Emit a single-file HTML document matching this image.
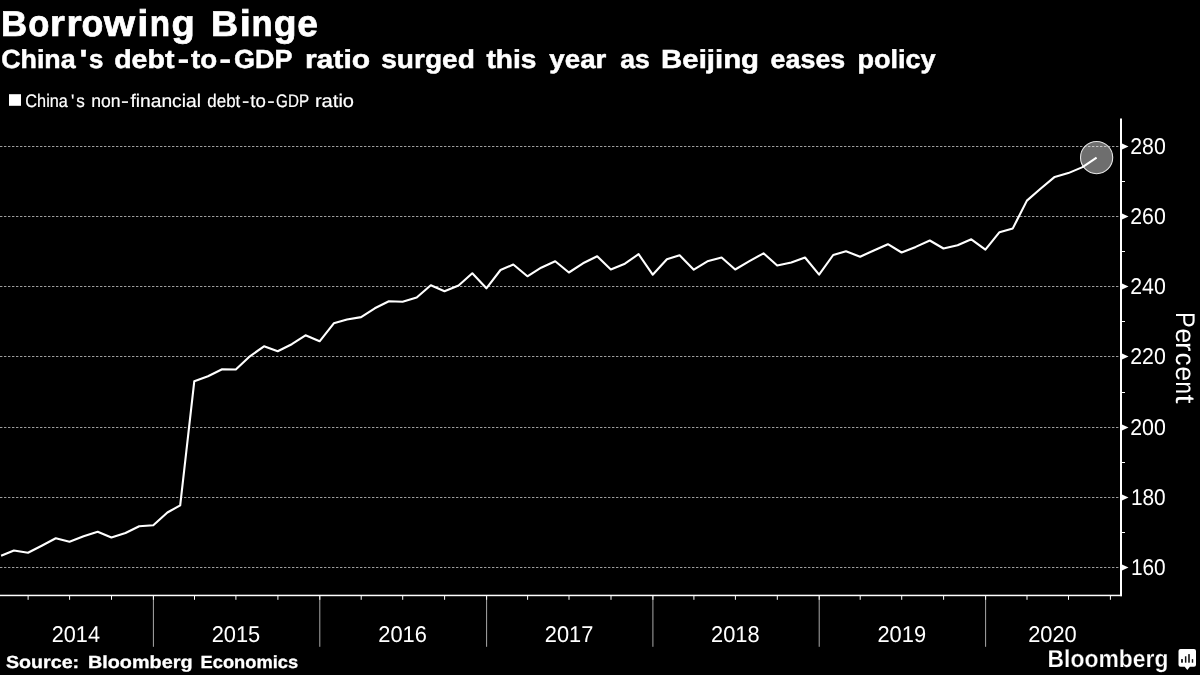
<!DOCTYPE html>
<html><head><meta charset="utf-8"><title>Borrowing Binge</title>
<style>
html,body{margin:0;padding:0;background:#000;width:1200px;height:675px;overflow:hidden}
svg text{font-family:"Liberation Sans",sans-serif;text-rendering:geometricPrecision;}
</style></head><body>
<svg width="1200" height="675" viewBox="0 0 1200 675" style="position:absolute;left:0;top:0;will-change:transform">
<rect width="1200" height="675" fill="#000"/>
<line x1="0" y1="146.5" x2="1120" y2="146.5" stroke="#9c9c9c" stroke-width="1" stroke-dasharray="2.4 1.6"/>
<line x1="0" y1="216.5" x2="1120" y2="216.5" stroke="#9c9c9c" stroke-width="1" stroke-dasharray="2.4 1.6"/>
<line x1="0" y1="286.5" x2="1120" y2="286.5" stroke="#9c9c9c" stroke-width="1" stroke-dasharray="2.4 1.6"/>
<line x1="0" y1="356.5" x2="1120" y2="356.5" stroke="#9c9c9c" stroke-width="1" stroke-dasharray="2.4 1.6"/>
<line x1="0" y1="427.5" x2="1120" y2="427.5" stroke="#9c9c9c" stroke-width="1" stroke-dasharray="2.4 1.6"/>
<line x1="0" y1="497.5" x2="1120" y2="497.5" stroke="#9c9c9c" stroke-width="1" stroke-dasharray="2.4 1.6"/>
<line x1="0" y1="567.5" x2="1120" y2="567.5" stroke="#9c9c9c" stroke-width="1" stroke-dasharray="2.4 1.6"/>
<circle cx="1096.6" cy="157.6" r="16.1" fill="#fff" fill-opacity="0.43" stroke="#e4e4e4" stroke-width="1.1"/>
<polyline points="1.1,555.8 13.9,550.5 28.0,552.8 41.7,545.8 55.8,538.3 69.5,541.7 83.6,536.3 97.7,531.7 111.4,537.5 125.5,533.0 139.2,526.3 153.3,525.3 167.4,512.5 180.2,505.3 194.3,381.2 208.0,376.3 222.1,369.2 235.8,369.5 249.9,356.3 264.0,346.3 277.7,351.3 291.8,344.2 305.5,335.3 319.6,341.3 333.8,323.3 347.0,319.5 361.1,317.1 374.8,308.3 388.9,301.3 402.6,301.7 416.7,297.5 430.8,285.3 444.5,291.3 458.6,285.5 472.3,273.3 486.4,288.3 500.5,270.0 513.3,264.5 527.4,276.3 541.1,267.7 555.2,261.3 568.9,272.5 583.0,263.3 597.2,256.3 610.8,269.5 624.9,263.7 638.6,254.2 652.7,274.7 666.9,259.2 679.6,255.3 693.8,269.7 707.4,261.3 721.6,257.5 735.2,269.5 749.4,261.2 763.5,253.3 777.2,265.5 791.3,262.5 805.0,257.5 819.1,274.7 833.2,255.0 846.0,251.3 860.1,256.7 873.8,250.5 887.9,244.2 901.6,252.5 915.7,246.9 929.8,240.5 943.5,248.5 957.6,245.2 971.3,239.3 985.4,249.7 999.5,232.2 1012.8,228.4 1026.9,200.6 1040.5,188.8 1054.7,176.9 1068.3,173.1 1082.5,167.1 1096.6,157.6" fill="none" stroke="#fff" stroke-width="2.1" stroke-linejoin="round" stroke-linecap="butt"/>
<rect x="1120" y="118.5" width="2" height="477.7" fill="#fff"/>
<rect x="0" y="594.7" width="1122" height="1.5" fill="#fff"/>
<path d="M1122 143.5 L1128.5 146.5 L1122 149.5 Z" fill="#fff"/>
<path d="M1122 213.5 L1128.5 216.5 L1122 219.5 Z" fill="#fff"/>
<path d="M1122 283.5 L1128.5 286.5 L1122 289.5 Z" fill="#fff"/>
<path d="M1122 353.5 L1128.5 356.5 L1122 359.5 Z" fill="#fff"/>
<path d="M1122 424.5 L1128.5 427.5 L1122 430.5 Z" fill="#fff"/>
<path d="M1122 494.5 L1128.5 497.5 L1122 500.5 Z" fill="#fff"/>
<path d="M1122 564.5 L1128.5 567.5 L1122 570.5 Z" fill="#fff"/>
<rect x="1122" y="181" width="3" height="1" fill="#fff"/>
<rect x="1122" y="251" width="3" height="1" fill="#fff"/>
<rect x="1122" y="321" width="3" height="1" fill="#fff"/>
<rect x="1122" y="392" width="3" height="1" fill="#fff"/>
<rect x="1122" y="462" width="3" height="1" fill="#fff"/>
<rect x="1122" y="532" width="3" height="1" fill="#fff"/>
<rect x="152.9" y="596" width="1" height="50.8" fill="#a8a8a8"/>
<rect x="152.9" y="596" width="1" height="3.8" fill="#fff"/>
<rect x="319.3" y="596" width="1" height="50.8" fill="#a8a8a8"/>
<rect x="319.3" y="596" width="1" height="3.8" fill="#fff"/>
<rect x="486.1" y="596" width="1" height="50.8" fill="#a8a8a8"/>
<rect x="486.1" y="596" width="1" height="3.8" fill="#fff"/>
<rect x="652.4" y="596" width="1" height="50.8" fill="#a8a8a8"/>
<rect x="652.4" y="596" width="1" height="3.8" fill="#fff"/>
<rect x="818.7" y="596" width="1" height="50.8" fill="#a8a8a8"/>
<rect x="818.7" y="596" width="1" height="3.8" fill="#fff"/>
<rect x="985.1" y="596" width="1" height="50.8" fill="#a8a8a8"/>
<rect x="985.1" y="596" width="1" height="3.8" fill="#fff"/>
<rect x="27.6" y="596" width="1" height="3.8" fill="#fff"/>
<rect x="69.1" y="596" width="1" height="3.8" fill="#fff"/>
<rect x="111.0" y="596" width="1" height="3.8" fill="#fff"/>
<rect x="194.0" y="596" width="1" height="3.8" fill="#fff"/>
<rect x="235.4" y="596" width="1" height="3.8" fill="#fff"/>
<rect x="277.4" y="596" width="1" height="3.8" fill="#fff"/>
<rect x="360.7" y="596" width="1" height="3.8" fill="#fff"/>
<rect x="402.2" y="596" width="1" height="3.8" fill="#fff"/>
<rect x="444.1" y="596" width="1" height="3.8" fill="#fff"/>
<rect x="527.1" y="596" width="1" height="3.8" fill="#fff"/>
<rect x="568.5" y="596" width="1" height="3.8" fill="#fff"/>
<rect x="610.5" y="596" width="1" height="3.8" fill="#fff"/>
<rect x="693.4" y="596" width="1" height="3.8" fill="#fff"/>
<rect x="734.9" y="596" width="1" height="3.8" fill="#fff"/>
<rect x="776.8" y="596" width="1" height="3.8" fill="#fff"/>
<rect x="859.7" y="596" width="1" height="3.8" fill="#fff"/>
<rect x="901.2" y="596" width="1" height="3.8" fill="#fff"/>
<rect x="943.1" y="596" width="1" height="3.8" fill="#fff"/>
<rect x="1026.5" y="596" width="1" height="3.8" fill="#fff"/>
<rect x="1068.0" y="596" width="1" height="3.8" fill="#fff"/>
<rect x="1109.9" y="596" width="1" height="3.8" fill="#fff"/>
<rect x="9" y="94.2" width="12" height="11.6" fill="#fff"/>
<path d="M1180.5 649.1 H1194 Q1196 649.1 1196 651.1 V664.7 Q1196 666.7 1194 666.7 H1189.9 L1187.3 670 L1184.7 666.7 H1180.5 Q1178.5 666.7 1178.5 664.7 V651.1 Q1178.5 649.1 1180.5 649.1 Z" fill="#fff"/>
<rect x="1181.1" y="659.1" width="1.8" height="3.6" fill="#111"/>
<rect x="1184.9" y="656.3" width="1.5" height="6.4" fill="#111"/>
<rect x="1188.2" y="654.1" width="1.6" height="8.6" fill="#111"/>
<rect x="1191.8" y="659.1" width="1.4" height="3.6" fill="#111"/>
<text font-weight="bold" fill="#fff" xml:space="default"><tspan x="1.12" y="36.3" font-size="35.7" textLength="26.18" lengthAdjust="spacingAndGlyphs" stroke="#fff" stroke-width="0.7">B</tspan><tspan x="28.28" y="36.3" font-size="37.0" textLength="21.14" lengthAdjust="spacingAndGlyphs" stroke="#fff" stroke-width="0.7">o</tspan><tspan x="50.01" y="36.3" font-size="37.0" textLength="14.86" lengthAdjust="spacingAndGlyphs" stroke="#fff" stroke-width="0.7">r</tspan><tspan x="66.53" y="36.3" font-size="37.0" textLength="15.17" lengthAdjust="spacingAndGlyphs" stroke="#fff" stroke-width="0.7">r</tspan><tspan x="81.55" y="36.3" font-size="37.0" textLength="21.84" lengthAdjust="spacingAndGlyphs" stroke="#fff" stroke-width="0.7">o</tspan><tspan x="103.68" y="36.3" font-size="37.0" textLength="31.35" lengthAdjust="spacingAndGlyphs" stroke="#fff" stroke-width="0.7">w</tspan><tspan x="137.24" y="36.3" font-size="37.0" textLength="11.17" lengthAdjust="spacingAndGlyphs" stroke="#fff" stroke-width="0.7">i</tspan><tspan x="149.69" y="36.3" font-size="37.0" textLength="20.34" lengthAdjust="spacingAndGlyphs" stroke="#fff" stroke-width="0.7">n</tspan><tspan x="171.54" y="36.3" font-size="37.0" textLength="23.27" lengthAdjust="spacingAndGlyphs" stroke="#fff" stroke-width="0.7">g</tspan> <tspan x="211.12" y="36.3" font-size="35.7" textLength="27.17" lengthAdjust="spacingAndGlyphs" stroke="#fff" stroke-width="0.7">B</tspan><tspan x="239.79" y="36.3" font-size="37.0" textLength="11.17" lengthAdjust="spacingAndGlyphs" stroke="#fff" stroke-width="0.7">i</tspan><tspan x="251.58" y="36.3" font-size="37.0" textLength="21.16" lengthAdjust="spacingAndGlyphs" stroke="#fff" stroke-width="0.7">n</tspan><tspan x="273.73" y="36.3" font-size="37.0" textLength="22.76" lengthAdjust="spacingAndGlyphs" stroke="#fff" stroke-width="0.7">g</tspan><tspan x="297.18" y="36.3" font-size="37.0" textLength="20.62" lengthAdjust="spacingAndGlyphs" stroke="#fff" stroke-width="0.7">e</tspan></text>
<text font-weight="bold" fill="#fff" xml:space="default"><tspan x="1.16" y="68.3" font-size="26.0" textLength="74.46" lengthAdjust="spacingAndGlyphs" stroke="#fff" stroke-width="0.5">China</tspan><tspan x="79.56" y="68.3" font-size="26.0" textLength="7.96" lengthAdjust="spacingAndGlyphs" stroke="#fff" stroke-width="0.5">&#39;</tspan><tspan x="89.03" y="68.3" font-size="26.0" textLength="14.40" lengthAdjust="spacingAndGlyphs" stroke="#fff" stroke-width="0.5">s</tspan> <tspan x="114.16" y="68.3" font-size="26.0" textLength="60.28" lengthAdjust="spacingAndGlyphs" stroke="#fff" stroke-width="0.5">debt</tspan><tspan x="177.70" y="68.3" font-size="26.0" textLength="11.29" lengthAdjust="spacingAndGlyphs" stroke="#fff" stroke-width="0.5">-</tspan><tspan x="191.09" y="68.3" font-size="26.0" textLength="26.18" lengthAdjust="spacingAndGlyphs" stroke="#fff" stroke-width="0.5">to</tspan><tspan x="219.47" y="68.3" font-size="26.0" textLength="11.44" lengthAdjust="spacingAndGlyphs" stroke="#fff" stroke-width="0.5">-</tspan><tspan x="234.11" y="68.3" font-size="26.0" textLength="58.37" lengthAdjust="spacingAndGlyphs" stroke="#fff" stroke-width="0.5">GDP</tspan> <tspan x="304.92" y="68.3" font-size="26.0" textLength="65.24" lengthAdjust="spacingAndGlyphs" stroke="#fff" stroke-width="0.5">ratio</tspan> <tspan x="381.22" y="68.3" font-size="26.0" textLength="93.61" lengthAdjust="spacingAndGlyphs" stroke="#fff" stroke-width="0.5">surged</tspan> <tspan x="486.51" y="68.3" font-size="26.0" textLength="49.98" lengthAdjust="spacingAndGlyphs" stroke="#fff" stroke-width="0.5">this</tspan> <tspan x="549.38" y="68.3" font-size="26.0" textLength="57.00" lengthAdjust="spacingAndGlyphs" stroke="#fff" stroke-width="0.5">year</tspan> <tspan x="620.36" y="68.3" font-size="26.0" textLength="29.52" lengthAdjust="spacingAndGlyphs" stroke="#fff" stroke-width="0.5">as</tspan> <tspan x="661.08" y="68.3" font-size="26.0" textLength="97.98" lengthAdjust="spacingAndGlyphs" stroke="#fff" stroke-width="0.5">Beijing</tspan> <tspan x="770.63" y="68.3" font-size="26.0" textLength="74.60" lengthAdjust="spacingAndGlyphs" stroke="#fff" stroke-width="0.5">eases</tspan> <tspan x="857.40" y="68.3" font-size="26.0" textLength="78.29" lengthAdjust="spacingAndGlyphs" stroke="#fff" stroke-width="0.5">policy</tspan></text>
<text font-weight="normal" fill="#fff" xml:space="default"><tspan x="25.37" y="106.7" font-size="18.2" textLength="42.52" lengthAdjust="spacingAndGlyphs" stroke="#fff" stroke-width="0.2">China</tspan><tspan x="71.04" y="106.7" font-size="18.2" textLength="3.35" lengthAdjust="spacingAndGlyphs" stroke="#fff" stroke-width="0.2">&#39;</tspan><tspan x="76.28" y="106.7" font-size="18.2" textLength="8.55" lengthAdjust="spacingAndGlyphs" stroke="#fff" stroke-width="0.2">s</tspan> <tspan x="91.29" y="106.7" font-size="18.2" textLength="29.38" lengthAdjust="spacingAndGlyphs" stroke="#fff" stroke-width="0.2">non</tspan><tspan x="121.11" y="106.7" font-size="18.2" textLength="7.89" lengthAdjust="spacingAndGlyphs" stroke="#fff" stroke-width="0.2">-</tspan><tspan x="130.40" y="106.7" font-size="18.2" textLength="70.56" lengthAdjust="spacingAndGlyphs" stroke="#fff" stroke-width="0.2">financial</tspan> <tspan x="207.34" y="106.7" font-size="18.2" textLength="32.94" lengthAdjust="spacingAndGlyphs" stroke="#fff" stroke-width="0.2">debt</tspan><tspan x="242.04" y="106.7" font-size="18.2" textLength="7.26" lengthAdjust="spacingAndGlyphs" stroke="#fff" stroke-width="0.2">-</tspan><tspan x="250.38" y="106.7" font-size="18.2" textLength="15.59" lengthAdjust="spacingAndGlyphs" stroke="#fff" stroke-width="0.2">to</tspan><tspan x="267.38" y="106.7" font-size="18.2" textLength="7.43" lengthAdjust="spacingAndGlyphs" stroke="#fff" stroke-width="0.2">-</tspan><tspan x="276.10" y="106.7" font-size="18.2" textLength="33.05" lengthAdjust="spacingAndGlyphs" stroke="#fff" stroke-width="0.2">GDP</tspan> <tspan x="314.93" y="106.7" font-size="18.2" textLength="39.12" lengthAdjust="spacingAndGlyphs" stroke="#fff" stroke-width="0.2">ratio</tspan></text>
<text x="1130.25" y="153.9" font-size="22.9" font-weight="normal" text-anchor="start" fill="#fff" textLength="35.50" lengthAdjust="spacingAndGlyphs" >280</text>
<text x="1130.25" y="223.9" font-size="22.9" font-weight="normal" text-anchor="start" fill="#fff" textLength="35.50" lengthAdjust="spacingAndGlyphs" >260</text>
<text x="1130.25" y="293.9" font-size="22.9" font-weight="normal" text-anchor="start" fill="#fff" textLength="35.50" lengthAdjust="spacingAndGlyphs" >240</text>
<text x="1130.25" y="363.9" font-size="22.9" font-weight="normal" text-anchor="start" fill="#fff" textLength="35.50" lengthAdjust="spacingAndGlyphs" >220</text>
<text x="1130.25" y="434.9" font-size="22.9" font-weight="normal" text-anchor="start" fill="#fff" textLength="35.50" lengthAdjust="spacingAndGlyphs" >200</text>
<text x="1130.88" y="504.9" font-size="22.9" font-weight="normal" text-anchor="start" fill="#fff" textLength="34.78" lengthAdjust="spacingAndGlyphs" >180</text>
<text x="1130.88" y="574.9" font-size="22.9" font-weight="normal" text-anchor="start" fill="#fff" textLength="34.78" lengthAdjust="spacingAndGlyphs" >160</text>
<text x="51.80" y="641.8" font-size="22.9" font-weight="normal" text-anchor="start" fill="#fff" textLength="48.15" lengthAdjust="spacingAndGlyphs" >2014</text>
<text x="211.64" y="641.8" font-size="22.9" font-weight="normal" text-anchor="start" fill="#fff" textLength="48.67" lengthAdjust="spacingAndGlyphs" >2015</text>
<text x="378.30" y="641.8" font-size="22.9" font-weight="normal" text-anchor="start" fill="#fff" textLength="48.58" lengthAdjust="spacingAndGlyphs" >2016</text>
<text x="544.79" y="641.8" font-size="22.9" font-weight="normal" text-anchor="start" fill="#fff" textLength="48.48" lengthAdjust="spacingAndGlyphs" >2017</text>
<text x="711.07" y="641.8" font-size="22.9" font-weight="normal" text-anchor="start" fill="#fff" textLength="48.55" lengthAdjust="spacingAndGlyphs" >2018</text>
<text x="877.42" y="641.8" font-size="22.9" font-weight="normal" text-anchor="start" fill="#fff" textLength="48.66" lengthAdjust="spacingAndGlyphs" >2019</text>
<text x="1028.23" y="641.8" font-size="22.9" font-weight="normal" text-anchor="start" fill="#fff" textLength="48.51" lengthAdjust="spacingAndGlyphs" >2020</text>
<text font-weight="bold" fill="#fff" xml:space="default"><tspan x="6.00" y="667.9" font-size="17.5" textLength="73.09" lengthAdjust="spacingAndGlyphs" stroke="#fff" stroke-width="0.3">Source:</tspan> <tspan x="87.95" y="667.9" font-size="17.5" textLength="104.59" lengthAdjust="spacingAndGlyphs" stroke="#fff" stroke-width="0.3">Bloomberg</tspan> <tspan x="200.57" y="667.9" font-size="17.5" textLength="97.54" lengthAdjust="spacingAndGlyphs" stroke="#fff" stroke-width="0.3">Economics</tspan></text>
<text x="1047.52" y="667.0" font-size="24.5" font-weight="bold" text-anchor="start" fill="#fff" textLength="120.90" lengthAdjust="spacingAndGlyphs" stroke="#000" stroke-width="0.25">Bloomberg</text>
<g transform="translate(1175.6,294) rotate(90)">
<text font-weight="normal" fill="#fff" xml:space="default"><tspan x="17.96" y="0" font-size="27" textLength="15.66" lengthAdjust="spacingAndGlyphs">P</tspan><tspan x="34.19" y="0" font-size="27" textLength="15.09" lengthAdjust="spacingAndGlyphs">e</tspan><tspan x="48.13" y="0" font-size="27" textLength="9.39" lengthAdjust="spacingAndGlyphs">r</tspan><tspan x="58.72" y="0" font-size="27" textLength="12.77" lengthAdjust="spacingAndGlyphs">c</tspan><tspan x="72.19" y="0" font-size="27" textLength="14.95" lengthAdjust="spacingAndGlyphs">e</tspan><tspan x="87.54" y="0" font-size="27" textLength="12.35" lengthAdjust="spacingAndGlyphs">n</tspan><tspan x="100.42" y="0" font-size="27" textLength="9.10" lengthAdjust="spacingAndGlyphs">t</tspan></text>
</g>
</svg>
</body></html>
